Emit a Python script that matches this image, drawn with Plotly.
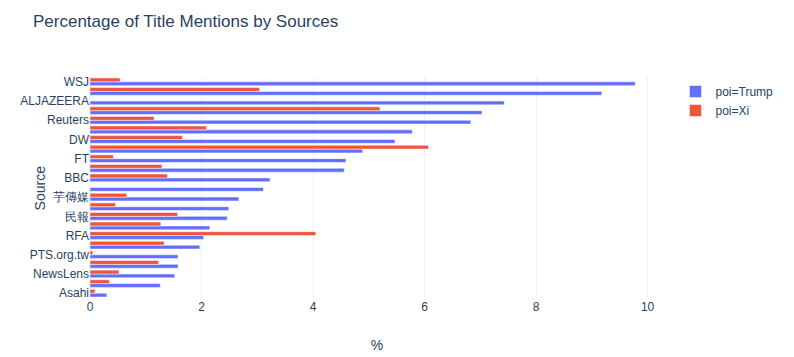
import plotly.graph_objects as go

# categories bottom-to-top (plotly category order)
sources = ["Asahi", "Nikkei", "NewsLens", "聯合報", "PTS.org.tw", "自由時報", "RFA",
           "中央社", "民報", "上報", "芋傳媒", "VOA", "BBC", "Economist", "FT", "AP",
           "DW", "Guardian", "Reuters", "NYT", "ALJAZEERA", "CNN", "WSJ"]
trump = [0.30, 1.26, 1.52, 1.58, 1.58, 1.97, 2.04, 2.15, 2.46, 2.49, 2.67, 3.11, 3.23,
         4.56, 4.59, 4.89, 5.47, 5.78, 6.83, 7.03, 7.43, 9.18, 9.78]
xi = [0.09, 0.35, 0.52, 1.23, 0.05, 1.33, 4.05, 1.27, 1.57, 0.46, 0.66, 0.0, 1.39,
      1.29, 0.42, 6.07, 1.66, 2.09, 1.15, 5.20, 0.0, 3.04, 0.54]

W, H = 786, 349

fig = go.Figure()
fig.add_trace(go.Bar(x=trump, y=sources, orientation="h", name="poi=Trump",
                     marker_color="#636efa"))
fig.add_trace(go.Bar(x=xi, y=sources, orientation="h", name="poi=Xi",
                     marker_color="#EF553B"))

fig.update_layout(
    template="plotly_white",
    width=W, height=H,
    barmode="group",
    font=dict(family="Arial, 'Liberation Sans', sans-serif"),
    title=dict(text="Percentage of Title Mentions by Sources", x=25 / W, xanchor="left",
               y=1 - 13 / H, yanchor="middle", yref="container"),
    margin=dict(l=82, r=130, t=69, b=59),
    xaxis=dict(title=dict(text="%", standoff=27), automargin=False),
    yaxis=dict(automargin=False),
    legend=dict(tracegroupgap=0),
    annotations=[dict(text="Source", textangle=-90, xref="paper", yref="paper",
                      x=-0.0872, y=0.5, xanchor="center", yanchor="middle",
                      showarrow=False, font=dict(size=14, color="#2a3f5f"))],
)

fig.write_html("out.html")
